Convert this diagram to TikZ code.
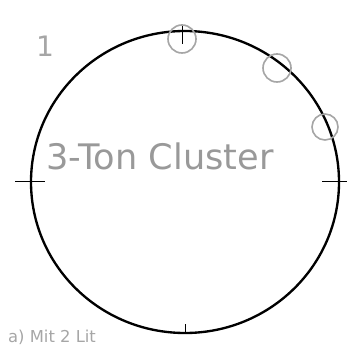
\documentclass[tikz,border=0pt]{standalone}
\usepackage{fontspec}
\setmainfont{DejaVu Sans}
\usepackage{tikz}
\usetikzlibrary{calc, positioning}

\begin{document}
\begin{tikzpicture}[x=0.03cm,y=-0.03cm]
        \useasboundingbox (0,0) rectangle (347,345); %Rahmen
        \draw[line width=2pt] (185,182) ellipse [x radius=154, y radius=151]; %Kreis
        \draw[semithick] (15,181) --(45,181); %links
        \draw[semithick] (322,181) --(347,181); %rechts
        \draw[thin] (182,26) --(182,44); %oben
        \draw[thin] (185,324) --(185,333); %unten
        \draw[gray!70,line width=1.4pt] (182,39) circle (14); %Markierung 1
        \draw[gray!70,line width=1.4pt] (277,68) circle (14);
        \draw[gray!70,line width=1.4pt] (325,127) circle (13);
        \node[gray!70,font=\fontsize{24}{24}\selectfont] (eins) at (45,46) {1};
        \node[gray!80,font=\fontsize{30}{30}\selectfont] (name) at (160,156) {3-Ton Cluster};
        \node[gray!70,anchor=base west,font=\fontsize{14}{14}\selectfont] (unten) at (4,342) {a) Mit 2 Lit};
    \end{tikzpicture}
\end{document}
